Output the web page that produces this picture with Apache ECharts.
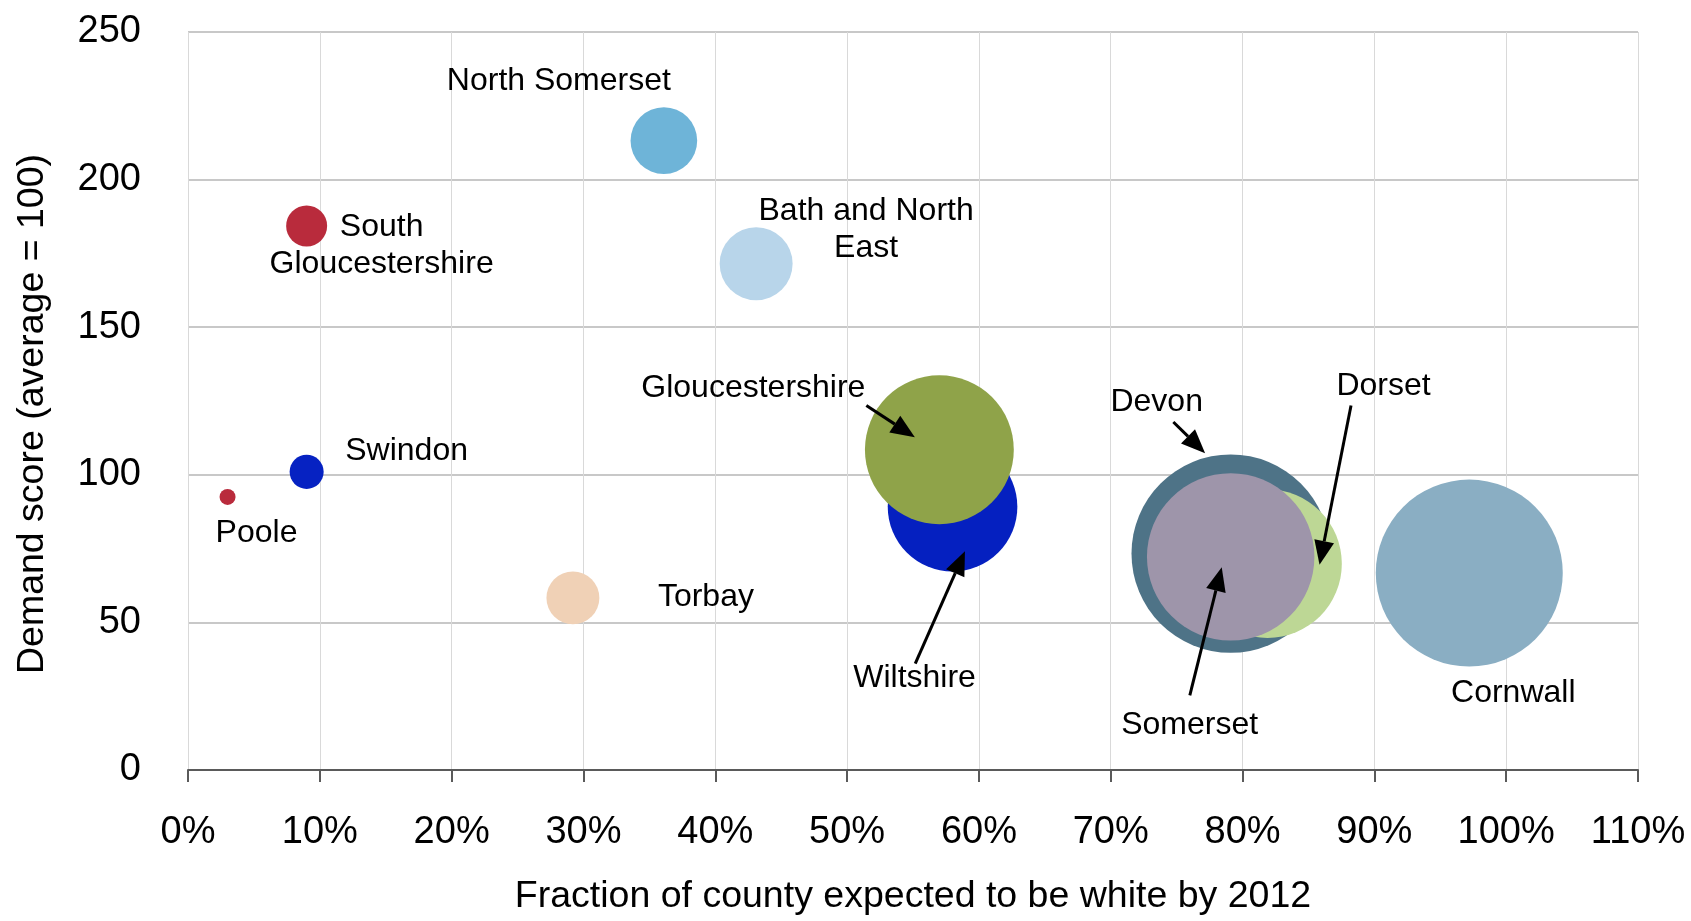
<!DOCTYPE html>
<html><head><meta charset="utf-8">
<script src="https://cdn.jsdelivr.net/npm/echarts@6/dist/echarts.min.js"></script>
<style>html,body{margin:0;padding:0;background:#fff}#c{width:1691px;height:921px}</style>
</head><body><div id="c"></div>
<script>
// ---- data ----
const counties = ['Poole','Swindon','South\nGloucestershire','Torbay','North Somerset','Bath and North\nEast','Wiltshire','Gloucestershire','Devon','Dorset','Somerset','Cornwall'];
const whiteFraction = [3.0, 9.0, 9.0, 29.2, 36.1, 43.1, 58.0, 57.0, 79.1, 81.9, 79.1, 97.2]; // %
const demandScore  = [92.5, 101.0, 184.3, 58.3, 213.2, 171.5, 89.2, 108.5, 73.3, 69.9, 72.2, 66.7];
const bubbleSize   = [0.64, 2.9, 4.2, 7.0, 11.1, 13.3, 42.0, 55.4, 98.4, 55.1, 70.1, 87.4];
const xTickValues  = [0,10,20,30,40,50,60,70,80,90,100,110];
const yTickValues  = [0,50,100,150,200,250];

// ---- styles ----
const colors = ['#b92b3c','#0622c2','#b92b3c','#f0d1b6','#6eb4d8','#b8d5ea','#0520c0','#8fa349','#4e7387','#bdd795','#9e95aa','#8aaec3'];
const labelOffsets = [[29,36],[100,-21],[75,20],[133,-1],[-105,-59],[110,-34],[-38,171],[-186,-62],[-74,-151],[116,-177],[-41,168],[44,120]];
// arrows (annotation) in data units: [fromX, fromY, toX, toY]
const arrows = [
  [51.46,123.5,55.14,112.7],
  [55.17,36.0,58.94,74.1],
  [74.75,117.9,77.16,107.3],
  [88.23,123.5,85.84,69.5],
  [76.0,25.3,78.42,68.7]
];
const FONT = '"Liberation Sans", Arial, sans-serif';

const chart = echarts.init(document.getElementById('c'), null, {renderer:'canvas'});
const data = counties.map((n,i)=>({
  name:n,
  value:[whiteFraction[i], demandScore[i], bubbleSize[i]],
  itemStyle:{color:colors[i], opacity:1}
}));

chart.setOption({
  animation:false,
  backgroundColor:'#fff',
  grid:{left:188, right:53, top:32, bottom:146},
  xAxis:{
    type:'value', min:0, max:110, interval:10,
    axisLine:{show:true, onZero:false, lineStyle:{color:'#5a5a5a', width:2}},
    axisTick:{show:true, length:12, lineStyle:{color:'#5a5a5a', width:2}},
    axisLabel:{formatter:'{value}%', color:'#000', fontSize:38, fontFamily:FONT, margin:44},
    splitLine:{show:true, lineStyle:{color:'#d9d9d9', width:1}},
    name:'Fraction of county expected to be white by 2012',
    nameLocation:'middle', nameGap:108,
    nameTextStyle:{color:'#000', fontSize:37.5, fontFamily:FONT}
  },
  yAxis:{
    type:'value', min:0, max:250, interval:50,
    axisLine:{show:false}, axisTick:{show:false},
    axisLabel:{color:'#000', fontSize:38, fontFamily:FONT, margin:47},
    splitLine:{show:true, lineStyle:{color:'#c8c8c8', width:2}},
    name:'Demand score (average = 100)',
    nameLocation:'middle', nameGap:136,
    nameTextStyle:{color:'#000', fontSize:37.5, fontFamily:FONT, padding:[0,0,0,-26]}
  },
  series:[{
    type:'scatter',
    data:data,
    symbol:'circle',
    symbolSize:(v)=>20*Math.sqrt(v[2]),
    emphasis:{disabled:true},
    label:{show:true, position:'inside', formatter:'{b}', color:'#000', fontSize:32, fontFamily:FONT,
      lineHeight:37, align:'center', verticalAlign:'middle'},
    labelLayout:(p)=>({dx:labelOffsets[p.dataIndex][0], dy:labelOffsets[p.dataIndex][1], hideOverlap:false})
  }]
});

function drawArrows(){
  const g = [];
  arrows.forEach(a=>{
    const p0 = chart.convertToPixel({gridIndex:0},[a[0],a[1]]);
    const p1 = chart.convertToPixel({gridIndex:0},[a[2],a[3]]);
    const dx=p1[0]-p0[0], dy=p1[1]-p0[1], len=Math.hypot(dx,dy);
    const ux=dx/len, uy=dy/len, L=24, W=10;
    const bx=p1[0]-ux*L, by=p1[1]-uy*L;
    g.push({type:'line', z:100, shape:{x1:p0[0],y1:p0[1],x2:bx,y2:by}, style:{stroke:'#000', lineWidth:3}});
    g.push({type:'polygon', z:100, shape:{points:[[p1[0],p1[1]],[bx-uy*W,by+ux*W],[bx+uy*W,by-ux*W]]}, style:{fill:'#000'}});
  });
  chart.setOption({graphic:g});
}
drawArrows();
</script></body></html>
